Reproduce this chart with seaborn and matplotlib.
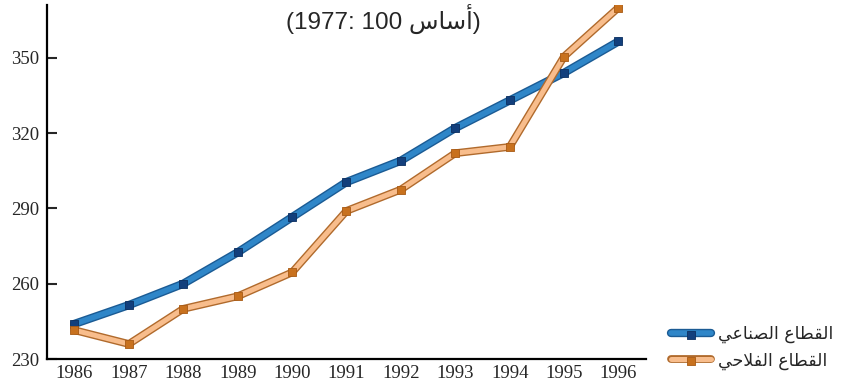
# index of industrial vs agricultural sector, base 1977 = 100
import numpy as np
import pandas as pd
import seaborn as sns
import matplotlib.pyplot as plt
import matplotlib.patheffects as pe
from matplotlib.ticker import FixedLocator
from matplotlib.legend_handler import HandlerTuple

years = [1986, 1987, 1988, 1989, 1990, 1991, 1992, 1993, 1994, 1995, 1996]
industrial = [244, 251.5, 260, 272.5, 286.5, 300.5, 309, 322, 333, 344, 356.5]
agricultural = [241.5, 236, 250, 255, 264.5, 289, 297.5, 312, 314.5, 350.5, 370]
y_ticks = [230, 260, 290, 320, 350]

# arabic text written in visual order with presentation forms (no shaping in matplotlib)
label_ind = "\uFEF2\uFECB\uFE8E\uFEE8\uFEBC\uFEDF\uFE8D \uFEC9\uFE8E\uFEC4\uFED8\uFEDF\uFE8D"   # القطاع الصناعي
label_agr = "\uFEF2\uFEA3\uFEFC\uFED4\uFEDF\uFE8D \uFEC9\uFE8E\uFEC4\uFED8\uFEDF\uFE8D"         # القطاع الفلاحي
title = "(1977: 100 \uFEB1\uFE8E\uFEB3\uFE83)"                                                 # (أساس 100 :1977)

sns.set_style("white")
plt.rcParams["font.family"] = ["Liberation Serif", "DejaVu Sans"]

data = pd.DataFrame({"year": years, "ind": industrial, "agr": agricultural})

fig = plt.figure(figsize=(8.44, 3.89), dpi=100)
ax = fig.add_axes([0.056, 0.077, 0.709, 0.91])

# lines with a darker outline
sns.lineplot(data=data, x="year", y="ind", ax=ax, color="#2f86c8", linewidth=4, errorbar=None,
             path_effects=[pe.Stroke(linewidth=6, foreground="#1b5b94"), pe.Normal()])
sns.lineplot(data=data, x="year", y="agr", ax=ax, color="#f8bd8c", linewidth=3.6, errorbar=None,
             path_effects=[pe.Stroke(linewidth=5.6, foreground="#b06a2c"), pe.Normal()])
line_ind, line_agr = ax.lines[0], ax.lines[1]

# square markers on top
sns.scatterplot(data=data, x="year", y="ind", ax=ax, marker="s", s=30,
                color="#123f7c", edgecolor="#0c2f60", linewidth=0.6, zorder=3)
pts_ind = ax.collections[-1]
sns.scatterplot(data=data, x="year", y="agr", ax=ax, marker="s", s=30,
                color="#c8711e", edgecolor="#a85a14", linewidth=0.6, zorder=3)
pts_agr = ax.collections[-1]

ax.set_xlim(1985.5, 1996.5)
ax.set_ylim(230, 371)
ax.set_xlabel("")
ax.set_ylabel("")

ax.set_xticks(years)
ax.set_xticklabels([str(y) for y in years])
ax.xaxis.set_minor_locator(FixedLocator([y + 0.5 for y in years]))
ax.tick_params(axis="x", which="major", length=0, labelsize=13.5, pad=4)
ax.tick_params(axis="x", which="minor", direction="in", length=6, width=1.5, color="black")
ax.set_yticks(y_ticks)
ax.tick_params(axis="y", direction="in", length=7, width=1.5, labelsize=13.5, pad=6, left=True)

sns.despine(ax=ax)
for s in ["left", "bottom"]:
    ax.spines[s].set_linewidth(1.6)
    ax.spines[s].set_color("black")

fig.text(0.454, 0.95, title, fontsize=17.5, ha="center", va="center",
         family=["Liberation Sans", "DejaVu Sans"])

ax.legend([(line_ind, pts_ind), (line_agr, pts_agr)], [label_ind, label_agr],
          handler_map={tuple: HandlerTuple(ndivide=1)},
          loc="lower left", bbox_to_anchor=(0.795, 0.05), bbox_transform=fig.transFigure,
          frameon=False, borderpad=0, borderaxespad=0, handlelength=2.3, handletextpad=0.4,
          labelspacing=0.45, prop={"family": "DejaVu Sans", "size": 12.5})

fig.savefig("out.png", dpi=100)
